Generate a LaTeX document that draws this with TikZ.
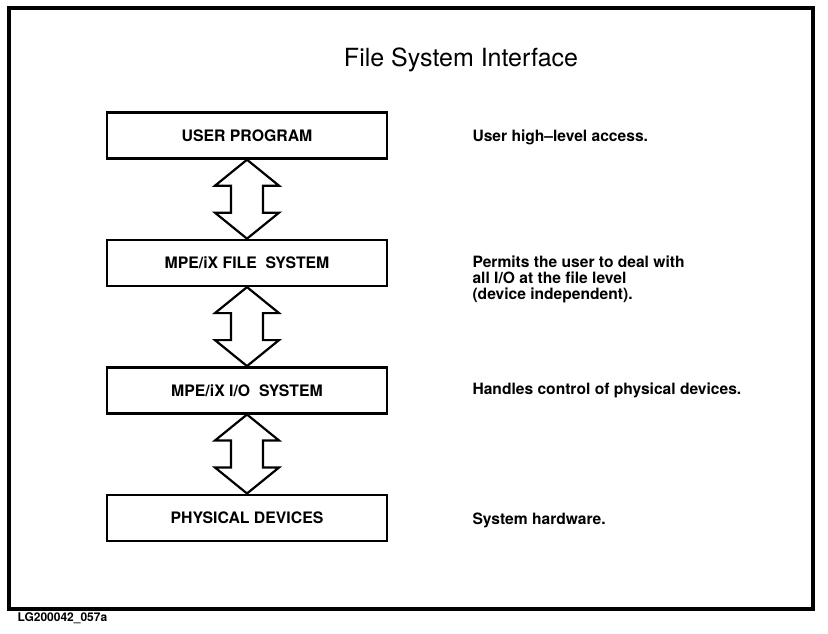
\documentclass[tikz,border=0pt]{standalone}
\usepackage{fontspec}
\setmainfont{TeX Gyre Heros}
\usetikzlibrary{positioning, calc}

\begin{document}
\begin{tikzpicture}[
    x=1pt, y=-1pt,
    layer/.style={draw, line width=2.4pt, minimum width=280pt, minimum height=46pt,
                  inner sep=0pt, font=\fontsize{15.8}{17}\selectfont\bfseries},
    note/.style={anchor=west, align=left, font=\fontsize{15.6}{16}\selectfont\bfseries},
    blockarrow/.style={draw, line width=2.2pt, fill=white, line join=miter},
]
  \useasboundingbox (0,0) rectangle (828,634);

  % ---- Frame and title ----
  \draw[line width=3.5pt] (9,8) rectangle (813,609);
  \node[font=\fontsize{25}{30}\selectfont] (title) at (461,60) {File System Interface};
  \node[anchor=west, font=\fontsize{12}{12}\selectfont\bfseries] (tag) at (14,618)
    {LG200042\_057a};

  % ---- Layers ----
  \node[layer] (user) at (247,135.5) {USER PROGRAM};
  \node[layer, below=79pt of user] (fsys) {MPE/iX FILE\ \ SYSTEM};
  \node[layer, below=79pt of fsys] (iosys) {MPE/iX I/O\ \ SYSTEM};
  \node[layer, below=79pt of iosys] (dev) {PHYSICAL DEVICES};

  % ---- Notes on the right ----
  \node[note] (usernote) at (469,137) {User high--level access.};
  \node[note] (fsysnote) at (469,279)
    {Permits the user to deal with\\all I/O at the file level\\(device independent).};
  \node[note] (iosysnote) at (469,390) {Handles control of physical devices.};
  \node[note] (devnote) at (469,520) {System hardware.};

  % ---- Double block arrows between layers ----
  \foreach \a/\b in {user/fsys, fsys/iosys, iosys/dev}
    \draw[blockarrow] (\a.south) -- ++(32,26) -- ++(-16,0)
      -- ($(\b.north)+(16,-26)$) -- ++(16,0) -- (\b.north)
      -- ++(-32,-26) -- ++(16,0) -- ($(\a.south)+(-16,26)$)
      -- ++(-16,0) -- cycle;

\end{tikzpicture}
\end{document}
